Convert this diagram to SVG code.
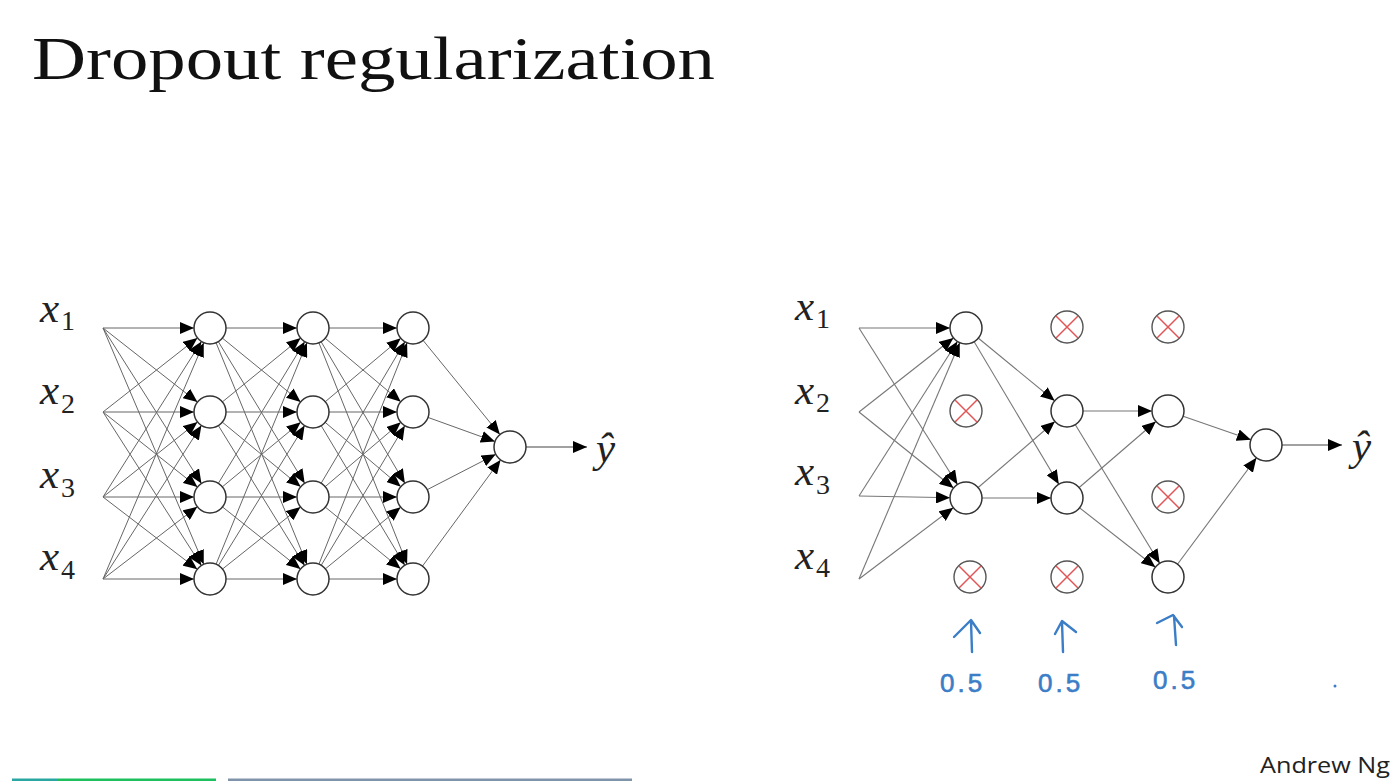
<svg xmlns="http://www.w3.org/2000/svg" width="1400" height="781" viewBox="0 0 1400 781">
<style>
.e{stroke:#666;stroke-width:1;fill:none;marker-end:url(#ah)}
.er{stroke:#777;stroke-width:1.1;fill:none;marker-end:url(#ah)}
.n{fill:#fff;stroke:#333;stroke-width:1.5}
.d{fill:#fff;stroke:#555;stroke-width:1.4}
.x{stroke:#e05555;stroke-width:1.5}
.v{font-family:"Liberation Serif",serif;font-style:italic;font-size:43px;fill:#222}
.s{font-family:"Liberation Serif",serif;font-size:28px;fill:#222}
.b{stroke:#3b7dc6;stroke-width:2.4;fill:none;stroke-linecap:round;stroke-linejoin:round}
.bt{font-family:"Liberation Sans",sans-serif;font-size:26px;fill:#3b7dc6;stroke:#3b7dc6;stroke-width:0.6;letter-spacing:3px}
</style>
<defs>
<marker id="ah" markerUnits="userSpaceOnUse" markerWidth="32" markerHeight="12" refX="30" refY="6" orient="auto"><path d="M0,0 L14,6 L0,12 Z" fill="#000"/></marker>
<marker id="at" markerUnits="userSpaceOnUse" markerWidth="16" markerHeight="12" refX="14" refY="6" orient="auto"><path d="M0,0 L14,6 L0,12 Z" fill="#000"/></marker>
</defs>
<rect width="1400" height="781" fill="#fff"/>
<text x="32" y="79" font-family="Liberation Serif,serif" font-size="62" fill="#111" textLength="683" lengthAdjust="spacingAndGlyphs">Dropout regularization</text>

<g id="connectors">
<line class="e" x1="103" y1="328" x2="210" y2="328"/><line class="e" x1="103" y1="328" x2="210" y2="412"/><line class="e" x1="103" y1="328" x2="210" y2="497"/><line class="e" x1="103" y1="328" x2="210" y2="579"/>
<line class="e" x1="103" y1="412" x2="210" y2="328"/><line class="e" x1="103" y1="412" x2="210" y2="412"/><line class="e" x1="103" y1="412" x2="210" y2="497"/><line class="e" x1="103" y1="412" x2="210" y2="579"/>
<line class="e" x1="103" y1="497" x2="210" y2="328"/><line class="e" x1="103" y1="497" x2="210" y2="412"/><line class="e" x1="103" y1="497" x2="210" y2="497"/><line class="e" x1="103" y1="497" x2="210" y2="579"/>
<line class="e" x1="103" y1="579" x2="210" y2="328"/><line class="e" x1="103" y1="579" x2="210" y2="412"/><line class="e" x1="103" y1="579" x2="210" y2="497"/><line class="e" x1="103" y1="579" x2="210" y2="579"/>
<line class="e" x1="210" y1="328" x2="313" y2="328"/><line class="e" x1="210" y1="328" x2="313" y2="412"/><line class="e" x1="210" y1="328" x2="313" y2="497"/><line class="e" x1="210" y1="328" x2="313" y2="579"/>
<line class="e" x1="210" y1="412" x2="313" y2="328"/><line class="e" x1="210" y1="412" x2="313" y2="412"/><line class="e" x1="210" y1="412" x2="313" y2="497"/><line class="e" x1="210" y1="412" x2="313" y2="579"/>
<line class="e" x1="210" y1="497" x2="313" y2="328"/><line class="e" x1="210" y1="497" x2="313" y2="412"/><line class="e" x1="210" y1="497" x2="313" y2="497"/><line class="e" x1="210" y1="497" x2="313" y2="579"/>
<line class="e" x1="210" y1="579" x2="313" y2="328"/><line class="e" x1="210" y1="579" x2="313" y2="412"/><line class="e" x1="210" y1="579" x2="313" y2="497"/><line class="e" x1="210" y1="579" x2="313" y2="579"/>
<line class="e" x1="313" y1="328" x2="413" y2="328"/><line class="e" x1="313" y1="328" x2="413" y2="412"/><line class="e" x1="313" y1="328" x2="413" y2="497"/><line class="e" x1="313" y1="328" x2="413" y2="579"/>
<line class="e" x1="313" y1="412" x2="413" y2="328"/><line class="e" x1="313" y1="412" x2="413" y2="412"/><line class="e" x1="313" y1="412" x2="413" y2="497"/><line class="e" x1="313" y1="412" x2="413" y2="579"/>
<line class="e" x1="313" y1="497" x2="413" y2="328"/><line class="e" x1="313" y1="497" x2="413" y2="412"/><line class="e" x1="313" y1="497" x2="413" y2="497"/><line class="e" x1="313" y1="497" x2="413" y2="579"/>
<line class="e" x1="313" y1="579" x2="413" y2="328"/><line class="e" x1="313" y1="579" x2="413" y2="412"/><line class="e" x1="313" y1="579" x2="413" y2="497"/><line class="e" x1="313" y1="579" x2="413" y2="579"/>
<line class="e" x1="413" y1="328" x2="510" y2="447"/><line class="e" x1="413" y1="412" x2="510" y2="447"/><line class="e" x1="413" y1="497" x2="510" y2="447"/><line class="e" x1="413" y1="579" x2="510" y2="447"/>
<line x1="510" y1="447" x2="587" y2="447" stroke="#444" stroke-width="1.2" marker-end="url(#at)"/>

<line class="er" x1="859" y1="328" x2="966" y2="328"/><line class="er" x1="859" y1="328" x2="966" y2="498"/>
<line class="er" x1="859" y1="412" x2="966" y2="328"/><line class="er" x1="859" y1="412" x2="966" y2="498"/>
<line class="er" x1="859" y1="496" x2="966" y2="328"/><line class="er" x1="859" y1="496" x2="966" y2="498"/>
<line class="er" x1="859" y1="579" x2="966" y2="328"/><line class="er" x1="859" y1="579" x2="966" y2="498"/>
<line class="er" x1="966" y1="328" x2="1067" y2="411"/><line class="er" x1="966" y1="328" x2="1067" y2="498"/>
<line class="er" x1="966" y1="498" x2="1067" y2="411"/><line class="er" x1="966" y1="498" x2="1067" y2="498"/>
<line class="er" x1="1067" y1="411" x2="1168" y2="411"/><line class="er" x1="1067" y1="411" x2="1168" y2="577"/>
<line class="er" x1="1067" y1="498" x2="1168" y2="411"/><line class="er" x1="1067" y1="498" x2="1168" y2="577"/>
<line class="er" x1="1168" y1="411" x2="1266" y2="445"/><line class="er" x1="1168" y1="577" x2="1266" y2="445"/>
<line x1="1266" y1="445" x2="1342" y2="445" stroke="#444" stroke-width="1.2" marker-end="url(#at)"/>
</g>

<g id="lx1"><text class="v" x="40" y="322">x</text><text class="s" x="61" y="330">1</text></g>
<g id="lx2"><text class="v" x="40" y="404">x</text><text class="s" x="61" y="413">2</text></g>
<g id="lx3"><text class="v" x="40" y="488">x</text><text class="s" x="61" y="497">3</text></g>
<g id="lx4"><text class="v" x="40" y="570">x</text><text class="s" x="61" y="579">4</text></g>

<g id="l1n1"><circle class="n" cx="210" cy="328" r="16"/></g>
<g id="l1n2"><circle class="n" cx="210" cy="412" r="16"/></g>
<g id="l1n3"><circle class="n" cx="210" cy="497" r="16"/></g>
<g id="l1n4"><circle class="n" cx="210" cy="579" r="16"/></g>
<g id="l2n1"><circle class="n" cx="313" cy="328" r="16"/></g>
<g id="l2n2"><circle class="n" cx="313" cy="412" r="16"/></g>
<g id="l2n3"><circle class="n" cx="313" cy="497" r="16"/></g>
<g id="l2n4"><circle class="n" cx="313" cy="579" r="16"/></g>
<g id="l3n1"><circle class="n" cx="413" cy="328" r="16"/></g>
<g id="l3n2"><circle class="n" cx="413" cy="412" r="16"/></g>
<g id="l3n3"><circle class="n" cx="413" cy="497" r="16"/></g>
<g id="l3n4"><circle class="n" cx="413" cy="579" r="16"/></g>
<g id="lout"><circle class="n" cx="510" cy="447" r="16"/></g>
<g id="lyhat"><text class="v" x="596" y="462" font-size="40">ŷ</text></g>

<g id="rx1"><text class="v" x="795" y="320">x</text><text class="s" x="816" y="328">1</text></g>
<g id="rx2"><text class="v" x="795" y="404">x</text><text class="s" x="816" y="412">2</text></g>
<g id="rx3"><text class="v" x="795" y="485">x</text><text class="s" x="816" y="494">3</text></g>
<g id="rx4"><text class="v" x="795" y="569">x</text><text class="s" x="816" y="577">4</text></g>

<g id="r1n1"><circle class="n" cx="966" cy="328" r="16"/></g>
<g id="r1n2"><circle class="d" cx="966" cy="411" r="16"/><path class="x" d="M955,400 L977,422 M977,400 L955,422"/></g>
<g id="r1n3"><circle class="n" cx="966" cy="498" r="16"/></g>
<g id="r1n4"><circle class="d" cx="970" cy="577" r="16"/><path class="x" d="M959,566 L981,588 M981,566 L959,588"/></g>
<g id="r2n1"><circle class="d" cx="1067" cy="327" r="16"/><path class="x" d="M1056,316 L1078,338 M1078,316 L1056,338"/></g>
<g id="r2n2"><circle class="n" cx="1067" cy="411" r="16"/></g>
<g id="r2n3"><circle class="n" cx="1067" cy="498" r="16"/></g>
<g id="r2n4"><circle class="d" cx="1067" cy="577" r="16"/><path class="x" d="M1056,566 L1078,588 M1078,566 L1056,588"/></g>
<g id="r3n1"><circle class="d" cx="1168" cy="327" r="16"/><path class="x" d="M1157,316 L1179,338 M1179,316 L1157,338"/></g>
<g id="r3n2"><circle class="n" cx="1168" cy="411" r="16"/></g>
<g id="r3n3"><circle class="d" cx="1168" cy="497" r="16"/><path class="x" d="M1157,486 L1179,508 M1179,486 L1157,508"/></g>
<g id="r3n4"><circle class="n" cx="1168" cy="577" r="16"/></g>
<g id="rout"><circle class="n" cx="1266" cy="445" r="16"/></g>
<g id="ryhat"><text class="v" x="1352" y="460" font-size="40">ŷ</text></g>

<g id="ann1"><path class="b" d="M972,652 L971,621 M954,637 L971,620 L980,633"/><text class="bt" x="940" y="692">0.5</text></g>
<g id="ann2"><path class="b" d="M1063,652 L1062,622 M1055,634 L1062,621 L1076,632"/><text class="bt" x="1038" y="692">0.5</text></g>
<g id="ann3"><path class="b" d="M1176,645 L1174,616 M1157,623 L1173,615 L1182,627"/><text class="bt" x="1153" y="689">0.5</text></g>
<circle cx="1335" cy="686" r="1.5" fill="#3b7dc6"/>

<text x="1260" y="773" font-family="Open Sans,Liberation Sans,sans-serif" font-size="22" fill="#222" textLength="130" lengthAdjust="spacingAndGlyphs">Andrew Ng</text>
<rect x="12" y="778.5" width="46" height="2.5" fill="#2aa7a3"/>
<rect x="58" y="778.5" width="158" height="2.5" fill="#1dbf5e"/>
<rect x="228" y="778.5" width="404" height="2.5" fill="#7f94aa"/>
</svg>
